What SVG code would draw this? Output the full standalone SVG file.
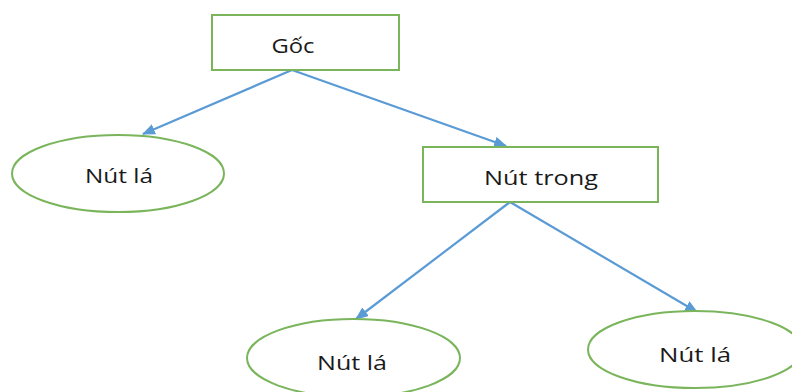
<svg xmlns="http://www.w3.org/2000/svg" width="792" height="392" viewBox="0 0 792 392">
  <style>
    .box { fill: #ffffff; stroke: #7ab55c; stroke-width: 2; }
    .edge { fill: none; stroke: #5b9bd5; stroke-width: 2.2; }
    .lbl { font-family: "Open Sans", "Liberation Sans", sans-serif; font-size: 20px; fill: #1a1a1a; text-anchor: middle; }
  </style>
  <defs>
    <marker id="arrow" viewBox="0 0 12 10" refX="11" refY="5" markerWidth="13" markerHeight="11" markerUnits="userSpaceOnUse" orient="auto">
      <path d="M0,0 L12,5 L0,10 Z" fill="#5b9bd5"/>
    </marker>
  </defs>
  <rect width="792" height="392" fill="#ffffff"/>

  <g id="connectors">
    <line class="edge" x1="292" y1="70" x2="143" y2="134" marker-end="url(#arrow)"/>
    <line class="edge" x1="292" y1="70" x2="506" y2="146" marker-end="url(#arrow)"/>
    <line class="edge" x1="510" y1="202" x2="356" y2="319" marker-end="url(#arrow)"/>
    <line class="edge" x1="510" y1="202" x2="697" y2="312" marker-end="url(#arrow)"/>
  </g>

  <g id="root">
    <rect class="box" x="212" y="15" width="187" height="55"/>
    <text class="lbl" x="293" y="53" textLength="43" lengthAdjust="spacingAndGlyphs">Gốc</text>
  </g>

  <g id="leaf-left">
    <ellipse class="box" cx="118" cy="173.5" rx="106" ry="38.5"/>
    <text class="lbl" x="119" y="183" textLength="68" lengthAdjust="spacingAndGlyphs">Nút lá</text>
  </g>

  <g id="inner">
    <rect class="box" x="423" y="147" width="235" height="55"/>
    <text class="lbl" x="541" y="185" textLength="114" lengthAdjust="spacingAndGlyphs">Nút trong</text>
  </g>

  <g id="leaf-bottom-left">
    <ellipse class="box" cx="353.5" cy="358" rx="106.5" ry="39"/>
    <text class="lbl" x="352" y="370" textLength="70" lengthAdjust="spacingAndGlyphs">Nút lá</text>
  </g>

  <g id="leaf-bottom-right">
    <ellipse class="box" cx="695" cy="349.5" rx="107" ry="38.5"/>
    <text class="lbl" x="695" y="362" textLength="72" lengthAdjust="spacingAndGlyphs">Nút lá</text>
  </g>
</svg>
